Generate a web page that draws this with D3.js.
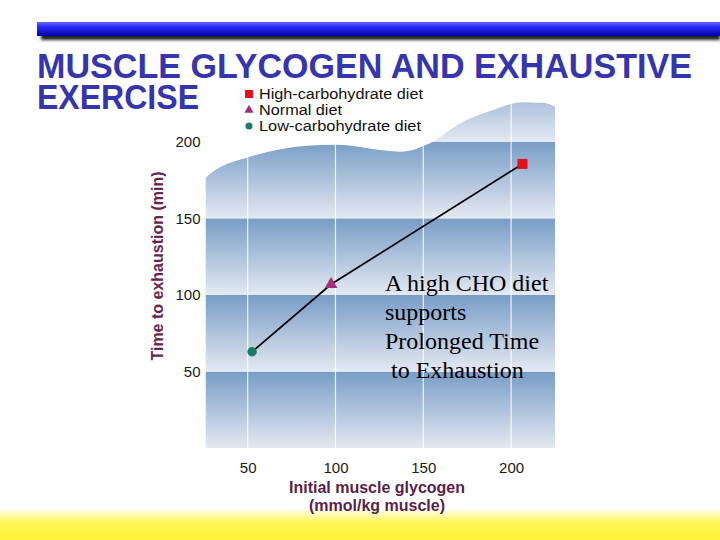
<!DOCTYPE html>
<html>
<head>
<meta charset="utf-8">
<script src="https://cdn.jsdelivr.net/npm/d3@7"></script>
<style>
  html, body { margin: 0; padding: 0; background: #fff; }
  svg { display: block; }
</style>
</head>
<body>
<div id="chart"></div>
<script>
// data
const diets = ["High-carbohydrate diet", "Normal diet", "Low-carbohydrate diet"];
const glycogen = [206.5, 97.5, 52.5];      // mmol/kg muscle
const exhaustion = [185.5, 107, 63];       // min
const markerColors = ["#e3101c", "#a2307e", "#1d7a68"];
const markerShapes = [d3.symbolSquare, d3.symbolTriangle, d3.symbolCircle];

const xTicks = [50, 100, 150, 200];
const yTicks = [50, 100, 150, 200];
const bandEdges = [0, 50, 100, 150, 200, 250];

// the wavy top edge of the background panel (glycogen, minutes)
const waveX = [26, 31, 51, 84, 100, 137, 154, 171, 188, 207, 219, 225];
const waveY = [176.5, 181, 190, 197.3, 198, 193.5, 199.2, 212, 220, 225.7, 225.2, 222.8];

const titleLines = ["MUSCLE GLYCOGEN AND EXHAUSTIVE", "EXERCISE"];
const noteLines = ["A high CHO diet", "supports", "Prolonged Time", "\u00a0to Exhaustion"];

const width = 720;
const height = 540;

const svg = d3.select("#chart").append("svg")
    .attr("width", width)
    .attr("height", height)
    .attr("viewBox", [0, 0, width, height]);

const defs = svg.append("defs");

// scales
const x = d3.scaleLinear().domain([26, 225]).range([205.5, 555]);
const y = d3.scaleLinear().domain([0, 200]).range([448.3, 141.7]);

// gradients
const band = defs.append("linearGradient")
    .attr("id", "band").attr("x1", 0).attr("y1", 0).attr("x2", 0).attr("y2", 1);
band.append("stop").attr("offset", 0).attr("stop-color", "#789dc6");
band.append("stop").attr("offset", 1).attr("stop-color", "#e4e9f2");

const bar = defs.append("linearGradient")
    .attr("id", "bar").attr("x1", 0).attr("y1", 0).attr("x2", 0).attr("y2", 1);
bar.append("stop").attr("offset", 0).attr("stop-color", "#6a6aff");
bar.append("stop").attr("offset", 0.35).attr("stop-color", "#2a2af5");
bar.append("stop").attr("offset", 1).attr("stop-color", "#0000a8");

const yellow = defs.append("linearGradient")
    .attr("id", "yellow").attr("x1", 0).attr("y1", 0).attr("x2", 0).attr("y2", 1);
yellow.append("stop").attr("offset", 0).attr("stop-color", "#ffffff");
yellow.append("stop").attr("offset", 0.45).attr("stop-color", "#fff657");
yellow.append("stop").attr("offset", 1).attr("stop-color", "#fff23a");

defs.append("filter").attr("id", "blur")
    .attr("x", "-5%").attr("y", "-50%").attr("width", "110%").attr("height", "200%")
  .append("feGaussianBlur").attr("stdDeviation", 1.6);

// slide decoration: blue rule with shadow, yellow footer
svg.append("rect")
    .attr("x", 41).attr("y", 27).attr("width", width - 41).attr("height", 13)
    .attr("fill", "#222").attr("filter", "url(#blur)");
svg.append("rect")
    .attr("x", 37).attr("y", 22).attr("width", width - 37).attr("height", 14)
    .attr("fill", "url(#bar)");
svg.append("rect")
    .attr("x", 0).attr("y", 508).attr("width", width).attr("height", height - 508)
    .attr("fill", "url(#yellow)");

// title
const titleWidths = [655, 162];
svg.append("g")
    .attr("font-family", "Liberation Sans, Arial, sans-serif")
    .attr("font-weight", "bold")
    .attr("font-size", 35)
    .attr("fill", "#3535ad")
  .selectAll("text")
  .data(titleLines)
  .join("text")
    .attr("x", 37)
    .attr("y", (d, i) => 78 + i * 31)
    .attr("textLength", (d, i) => titleWidths[i])
    .attr("lengthAdjust", "spacingAndGlyphs")
    .text(d => d);

// background panel clipped to the wavy top
const wave = d3.zip(waveX, waveY);
const panelArea = d3.area()
    .x(d => x(d[0]))
    .y0(y(0))
    .y1(d => y(d[1]))
    .curve(d3.curveMonotoneX);

defs.append("clipPath").attr("id", "panel")
  .append("path").attr("d", panelArea(wave));

const panel = svg.append("g").attr("clip-path", "url(#panel)");

panel.selectAll("rect.band")
  .data(d3.pairs(bandEdges))
  .join("rect")
    .attr("class", "band")
    .attr("x", x(26))
    .attr("width", x(225) - x(26))
    .attr("y", d => y(d[1]))
    .attr("height", d => y(d[0]) - y(d[1]))
    .attr("fill", "url(#band)");

panel.selectAll("line.grid")
  .data(xTicks)
  .join("line")
    .attr("class", "grid")
    .attr("x1", d => x(d)).attr("x2", d => x(d))
    .attr("y1", y(0)).attr("y2", y(250))
    .attr("stroke", "#fff")
    .attr("stroke-opacity", 0.85)
    .attr("stroke-width", 1.2);

// axes (labels only)
const xAxis = svg.append("g")
    .attr("transform", `translate(0,${y(0)})`)
    .call(d3.axisBottom(x).tickValues(xTicks).tickSize(0).tickPadding(14));
const yAxis = svg.append("g")
    .attr("transform", `translate(${x(26) - 4},0)`)
    .call(d3.axisLeft(y).tickValues(yTicks).tickSize(0).tickPadding(1));

[xAxis, yAxis].forEach(a => {
  a.select(".domain").remove();
  a.selectAll("text")
    .attr("font-family", "Liberation Sans, Arial, sans-serif")
    .attr("font-size", 15)
    .attr("fill", "#1a1a1a");
});

// axis titles
svg.append("text")
    .attr("x", 377).attr("y", 493)
    .attr("text-anchor", "middle")
    .attr("font-family", "Liberation Sans, Arial, sans-serif")
    .attr("font-weight", "bold").attr("font-size", 16)
    .attr("fill", "#5a1f49")
    .text("Initial muscle glycogen");
svg.append("text")
    .attr("x", 377).attr("y", 511)
    .attr("text-anchor", "middle")
    .attr("font-family", "Liberation Sans, Arial, sans-serif")
    .attr("font-weight", "bold").attr("font-size", 16)
    .attr("fill", "#5a1f49")
    .text("(mmol/kg muscle)");
svg.append("text")
    .attr("transform", "translate(163,266) rotate(-90)")
    .attr("text-anchor", "middle")
    .attr("font-family", "Liberation Sans, Arial, sans-serif")
    .attr("font-weight", "bold").attr("font-size", 16)
    .attr("fill", "#66264f")
    .text("Time to exhaustion (min)");

// line and points
const pts = d3.zip(glycogen, exhaustion, markerColors, markerShapes);
const lineData = pts.slice().sort((a, b) => a[0] - b[0]);

svg.append("path")
    .attr("d", d3.line().x(d => x(d[0])).y(d => y(d[1]))(lineData))
    .attr("fill", "none")
    .attr("stroke", "#000")
    .attr("stroke-width", 1.7);

const symSize = [100, 70, 70];
svg.selectAll("path.pt")
  .data(pts)
  .join("path")
    .attr("class", "pt")
    .attr("transform", d => `translate(${x(d[0])},${y(d[1])})`)
    .attr("d", (d, i) => d3.symbol(d[3], symSize[i])())
    .attr("fill", d => d[2]);

// legend: glyphs are a little stretched in the slide
const legend = svg.append("g")
    .attr("font-family", "Liberation Sans, Arial, sans-serif")
    .attr("font-size", 13.8)
    .attr("fill", "#111");
const legendSize = [64, 36, 40];
const legendWidths = [164, 83, 162];
diets.forEach((name, i) => {
  const row = legend.append("g").attr("transform", `translate(0,${99 + i * 16})`);
  row.append("path")
      .attr("transform", `translate(249,-5)`)
      .attr("d", d3.symbol(markerShapes[i], legendSize[i])())
      .attr("fill", markerColors[i]);
  row.append("text").attr("x", 259).attr("y", 0)
      .attr("textLength", legendWidths[i])
      .attr("lengthAdjust", "spacingAndGlyphs")
      .text(name);
});

// annotation
svg.append("g")
    .attr("font-family", "Liberation Serif, 'Times New Roman', serif")
    .attr("font-size", 24)
    .attr("fill", "#000")
  .selectAll("text")
  .data(noteLines)
  .join("text")
    .attr("x", 385)
    .attr("y", (d, i) => 291 + i * 29)
    .attr("xml:space", "preserve")
    .text(d => d);
</script>
</body>
</html>
